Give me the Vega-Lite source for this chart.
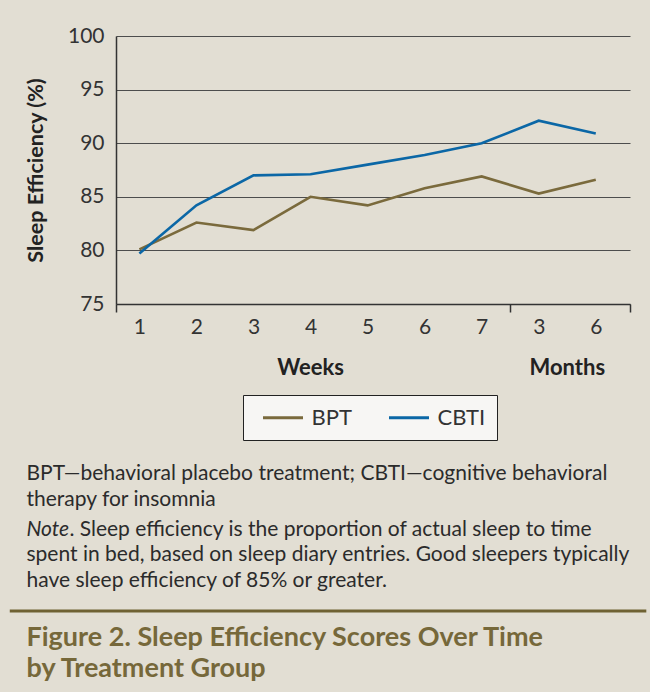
{
  "$schema": "https://vega.github.io/schema/vega-lite/v6.json",
  "autosize": "none",
  "width": 514,
  "height": 268,
  "padding": {"left": 116, "top": 36, "right": 20, "bottom": 388},
  "background": "#e2ded3",
  "config": {
    "view": {"stroke": null},
    "font": "Lato",
    "text": {"font": "Lato"}
  },
  "data": {
    "values": [
      {"group": "BPT", "period": "Week 1", "order": 0, "efficiency": 80.1},
      {"group": "BPT", "period": "Week 2", "order": 1, "efficiency": 82.6},
      {"group": "BPT", "period": "Week 3", "order": 2, "efficiency": 81.9},
      {"group": "BPT", "period": "Week 4", "order": 3, "efficiency": 85.0},
      {"group": "BPT", "period": "Week 5", "order": 4, "efficiency": 84.2},
      {"group": "BPT", "period": "Week 6", "order": 5, "efficiency": 85.8},
      {"group": "BPT", "period": "Week 7", "order": 6, "efficiency": 86.9},
      {"group": "BPT", "period": "Month 3", "order": 7, "efficiency": 85.3},
      {"group": "BPT", "period": "Month 6", "order": 8, "efficiency": 86.6},
      {"group": "CBTI", "period": "Week 1", "order": 0, "efficiency": 79.7},
      {"group": "CBTI", "period": "Week 2", "order": 1, "efficiency": 84.2},
      {"group": "CBTI", "period": "Week 3", "order": 2, "efficiency": 87.0},
      {"group": "CBTI", "period": "Week 4", "order": 3, "efficiency": 87.1},
      {"group": "CBTI", "period": "Week 5", "order": 4, "efficiency": 88.0},
      {"group": "CBTI", "period": "Week 6", "order": 5, "efficiency": 88.9},
      {"group": "CBTI", "period": "Week 7", "order": 6, "efficiency": 90.0},
      {"group": "CBTI", "period": "Month 3", "order": 7, "efficiency": 92.1},
      {"group": "CBTI", "period": "Month 6", "order": 8, "efficiency": 90.9}
    ]
  },
  "layer": [
    {
      "mark": {"type": "line", "strokeWidth": 2.6},
      "encoding": {
        "x": {
          "field": "order",
          "type": "quantitative",
          "scale": {"domain": [-0.41, 8.6], "nice": false, "zero": false},
          "axis": {
            "title": null,
            "grid": false,
            "values": [-0.41, 0, 1, 2, 3, 4, 5, 6, 6.5, 7, 8, 8.6],
            "labelExpr": "datum.value >= 0 && datum.value == floor(datum.value) ? ['1','2','3','4','5','6','7','3','6'][datum.value] : ''",
            "labelOverlap": false,
            "labelBound": false,
            "labelFlush": false,
            "labelFont": "Lato",
            "labelFontSize": 21,
            "labelColor": "#333333",
            "labelPadding": 4,
            "tickSize": 8,
            "tickColor": "#333333",
            "tickWidth": 1.5,
            "tickOpacity": {"condition": {"test": "datum.value < -0.3 || (datum.value > 6.4 && datum.value < 6.6) || datum.value > 8.5", "value": 1}, "value": 0},
            "domainColor": "#333333",
            "domainWidth": 1.5
          }
        },
        "y": {
          "field": "efficiency",
          "type": "quantitative",
          "scale": {"domain": [75, 100], "nice": false, "zero": false},
          "axis": {
            "title": "Sleep Efficiency (%)",
            "titleFont": "Lato",
            "titleFontSize": 21.5,
            "titleFontWeight": "bold",
            "titleColor": "#222222",
            "titlePadding": 20,
            "values": [75, 80, 85, 90, 95, 100],
            "grid": true,
            "gridColor": "#4d4d4d",
            "gridWidth": 1.2,
            "ticks": false,
            "tickSize": 0,
            "labelFont": "Lato",
            "labelFontSize": 21,
            "labelColor": "#333333",
            "labelPadding": 12,
            "domainColor": "#333333",
            "domainWidth": 1.5
          }
        },
        "color": {
          "field": "group",
          "type": "nominal",
          "scale": {"domain": ["BPT", "CBTI"], "range": ["#7a6a3c", "#0b67a6"]},
          "legend": {
            "title": null,
            "orient": "none",
            "legendX": 127,
            "legendY": 359,
            "direction": "horizontal",
            "fillColor": "#f7f6f4",
            "strokeColor": "#222222",
            "padding": 11,
            "symbolType": "M-2,0H2",
            "symbolSize": 400,
            "symbolStrokeWidth": 3,
            "symbolOffset": 17.5,
            "labelOffset": 17,
            "columnPadding": 28,
            "labelFont": "Lato",
            "labelFontSize": 22,
            "labelColor": "#333333"
          }
        }
      }
    },
    {
      "data": {"values": [{}]},
      "mark": {"type": "text", "text": "Weeks", "font": "Lato", "fontSize": 22, "fontWeight": "bold", "color": "#222222", "align": "center", "baseline": "alphabetic"},
      "encoding": {"x": {"datum": 3, "type": "quantitative"}, "y": {"datum": 68.38, "type": "quantitative"}}
    },
    {
      "data": {"values": [{}]},
      "mark": {"type": "text", "text": "Months", "font": "Lato", "fontSize": 22, "fontWeight": "bold", "color": "#222222", "align": "center", "baseline": "alphabetic"},
      "encoding": {"x": {"datum": 7.5, "type": "quantitative"}, "y": {"datum": 68.38, "type": "quantitative"}}
    },
    {
      "data": {"values": [{}]},
      "mark": {"type": "text", "text": ["BPT—behavioral placebo treatment; CBTI—cognitive behavioral", "therapy for insomnia"], "font": "Lato", "fontSize": 21, "color": "#2b2b2b", "align": "left", "baseline": "alphabetic", "lineHeight": 25.7},
      "encoding": {"x": {"datum": -1.979, "type": "quantitative"}, "y": {"datum": 58.58, "type": "quantitative"}}
    },
    {
      "data": {"values": [{}]},
      "mark": {"type": "text", "text": "Note", "font": "Lato", "fontSize": 21, "fontStyle": "italic", "color": "#2b2b2b", "align": "left", "baseline": "alphabetic"},
      "encoding": {"x": {"datum": -1.979, "type": "quantitative"}, "y": {"datum": 53.36, "type": "quantitative"}}
    },
    {
      "data": {"values": [{}]},
      "mark": {"type": "text", "text": ". Sleep efficiency is the proportion of actual sleep to time", "font": "Lato", "fontSize": 21, "color": "#2b2b2b", "align": "left", "baseline": "alphabetic"},
      "encoding": {"x": {"datum": -1.227, "type": "quantitative"}, "y": {"datum": 53.36, "type": "quantitative"}}
    },
    {
      "data": {"values": [{}]},
      "mark": {"type": "text", "text": ["spent in bed, based on sleep diary entries. Good sleepers typically", "have sleep efficiency of 85% or greater."], "font": "Lato", "fontSize": 21, "color": "#2b2b2b", "align": "left", "baseline": "alphabetic", "lineHeight": 25.7},
      "encoding": {"x": {"datum": -1.979, "type": "quantitative"}, "y": {"datum": 51.03, "type": "quantitative"}}
    },
    {
      "data": {"values": [{}]},
      "mark": {"type": "rule", "color": "#6f6233", "strokeWidth": 3},
      "encoding": {"x": {"datum": -2.272, "type": "quantitative"}, "x2": {"datum": 8.886}, "y": {"datum": 46.36, "type": "quantitative"}}
    },
    {
      "data": {"values": [{}]},
      "mark": {"type": "text", "text": ["Figure 2. Sleep Efficiency Scores Over Time", "by Treatment Group"], "font": "Lato", "fontSize": 27, "fontWeight": "bold", "color": "#76683a", "align": "left", "baseline": "alphabetic", "lineHeight": 31},
      "encoding": {"x": {"datum": -1.979, "type": "quantitative"}, "y": {"datum": 43.1, "type": "quantitative"}}
    }
  ]
}
